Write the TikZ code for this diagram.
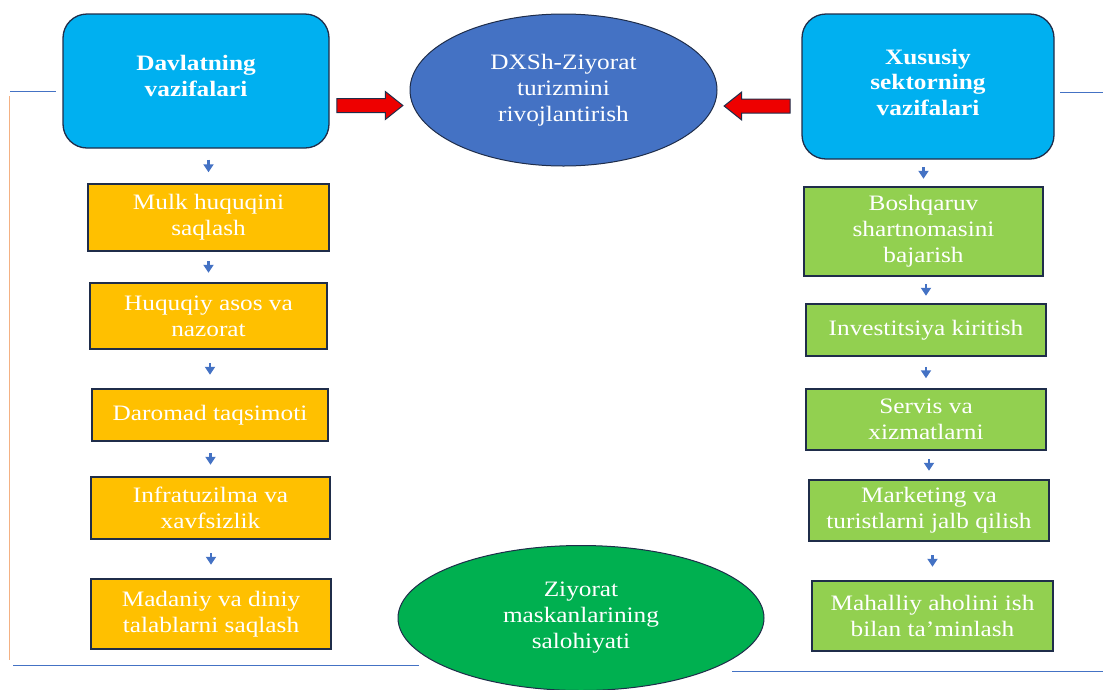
\documentclass[tikz,border=0pt]{standalone}
\usepackage{fontspec}
\setmainfont[FakeStretch=1.15]{Liberation Serif}
\usetikzlibrary{shapes.geometric,shapes.arrows,arrows.meta,positioning}

\definecolor{headcyan}{HTML}{00B0F0}
\definecolor{ovalblue}{HTML}{4472C4}
\definecolor{stateyellow}{HTML}{FFC000}
\definecolor{privgreen}{HTML}{92D050}
\definecolor{ovalgreen}{HTML}{00B050}
\definecolor{edgenavy}{HTML}{1F2D4A}
\definecolor{linkblue}{HTML}{4472C4}
\definecolor{sideorange}{HTML}{F4B183}
\definecolor{arrowred}{HTML}{EE0000}

\begin{document}
\begin{tikzpicture}[x=1pt,y=-1pt,
	every node/.style={font=\fontsize{22}{26}\selectfont, text=white, align=center},
	headbox/.style={draw=edgenavy, line width=1.3pt, fill=headcyan, rounded corners=24pt},
	headtext/.style={font=\fontsize{22}{25.5}\selectfont\bfseries},
	govbox/.style={draw=edgenavy, line width=1.5pt, fill=stateyellow},
	privbox/.style={draw=edgenavy, line width=1.5pt, fill=privgreen},
	oval/.style={ellipse, draw=edgenavy, line width=1pt, inner sep=0pt},
	redarrow/.style={single arrow, draw=edgenavy, line width=1pt, fill=arrowred, minimum height=66, inner sep=6.5pt, single arrow head extend=7pt, single arrow tip angle=77, single arrow head indent=0pt},
	flow/.style={draw=linkblue, line width=2.2pt, -{Triangle[width=10pt,length=8pt]}, shorten <=#1, shorten >=#1},
	thinblue/.style={draw=linkblue, line width=0.9pt}]

	\useasboundingbox (0,0) rectangle (1103,689);

	% Side lines
	\draw [thinblue] (10,91) -- (56,91);
	\draw [draw=sideorange, line width=1pt] (9,96) -- (9,660);
	\draw [thinblue] (13,665) -- (419,665);
	\draw [thinblue] (732,671) -- (1103,671);
	\draw [thinblue] (1060,92) -- (1103,92);

	% Heads
	\node [headbox, minimum width=266, minimum height=134] (gov) at (196,81) {};
	\node [headtext] (govtext) at (196,76) {Davlatning\\vazifalari};
	\node [headbox, minimum width=252, minimum height=145] (priv) at (928,86.5) {};
	\node [headtext] (privtext) at (928,82) {Xususiy\\sektorning\\vazifalari};

	\node [oval, fill=ovalblue, minimum width=307, minimum height=152] (dev) at (563.5,90) {DXSh-Ziyorat\\turizmini\\rivojlantirish};
	\node [oval, fill=ovalgreen, minimum width=366, minimum height=145] (site) at (581,618) {Ziyorat\\maskanlarining\\salohiyati};

	\node [redarrow] (toDevL) at (365.5,105.5) {};
	\node [redarrow, shape border rotate=180] (toDevR) at (761.5,106) {};

	% State column
	\node [govbox, minimum width=241, minimum height=67] (l1) at (208.5,217.5) {Mulk huquqini\\saqlash};
	\node [govbox, minimum width=237, minimum height=66] (l2) at (208.5,316) {Huquqiy asos va\\nazorat};
	\node [govbox, minimum width=236, minimum height=52] (l3) at (210,415) {Daromad taqsimoti};
	\node [govbox, minimum width=239, minimum height=62] (l4) at (210.5,508) {Infratuzilma va\\xavfsizlik};
	\node [govbox, minimum width=240, minimum height=70] (l5) at (211,614) {Madaniy va diniy\\talablarni saqlash};

	% Private column
	\node [privbox, minimum width=239, minimum height=89] (r1) at (923.5,231.5) {Boshqaruv\\shartnomasini\\bajarish};
	\node [privbox, minimum width=240, minimum height=52] (r2) at (926,330) {Investitsiya kiritish};
	\node [privbox, minimum width=240, minimum height=61] (r3) at (926,419.5) {Servis va\\xizmatlarni};
	\node [privbox, minimum width=240, minimum height=61] (r4) at (929,510.5) {Marketing va\\turistlarni jalb qilish};
	\node [privbox, minimum width=241, minimum height=70] (r5) at (932.5,616) {Mahalliy aholini ish\\bilan ta’minlash};

	% Small arrows
	\draw [flow=11] (l1.north |- gov.south) -- (l1.north);
	\draw [flow=9.5] (l2.north |- l1.south) -- (l2.north);
	\draw [flow=13.5] (l3.north |- l2.south) -- (l3.north);
	\draw [flow=11.5] (l4.north |- l3.south) -- (l4.north);
	\draw [flow=13.5] (l5.north |- l4.south) -- (l5.north);

	\draw [flow=7.5] (r1.north |- priv.south) -- (r1.north);
	\draw [flow=7.5] (r2.north |- r1.south) -- (r2.north);
	\draw [flow=10] (r3.north |- r2.south) -- (r3.north);
	\draw [flow=8.5] (r4.north |- r3.south) -- (r4.north);
	\draw [flow=13.5] (r5.north |- r4.south) -- (r5.north);

\end{tikzpicture}
\end{document}
